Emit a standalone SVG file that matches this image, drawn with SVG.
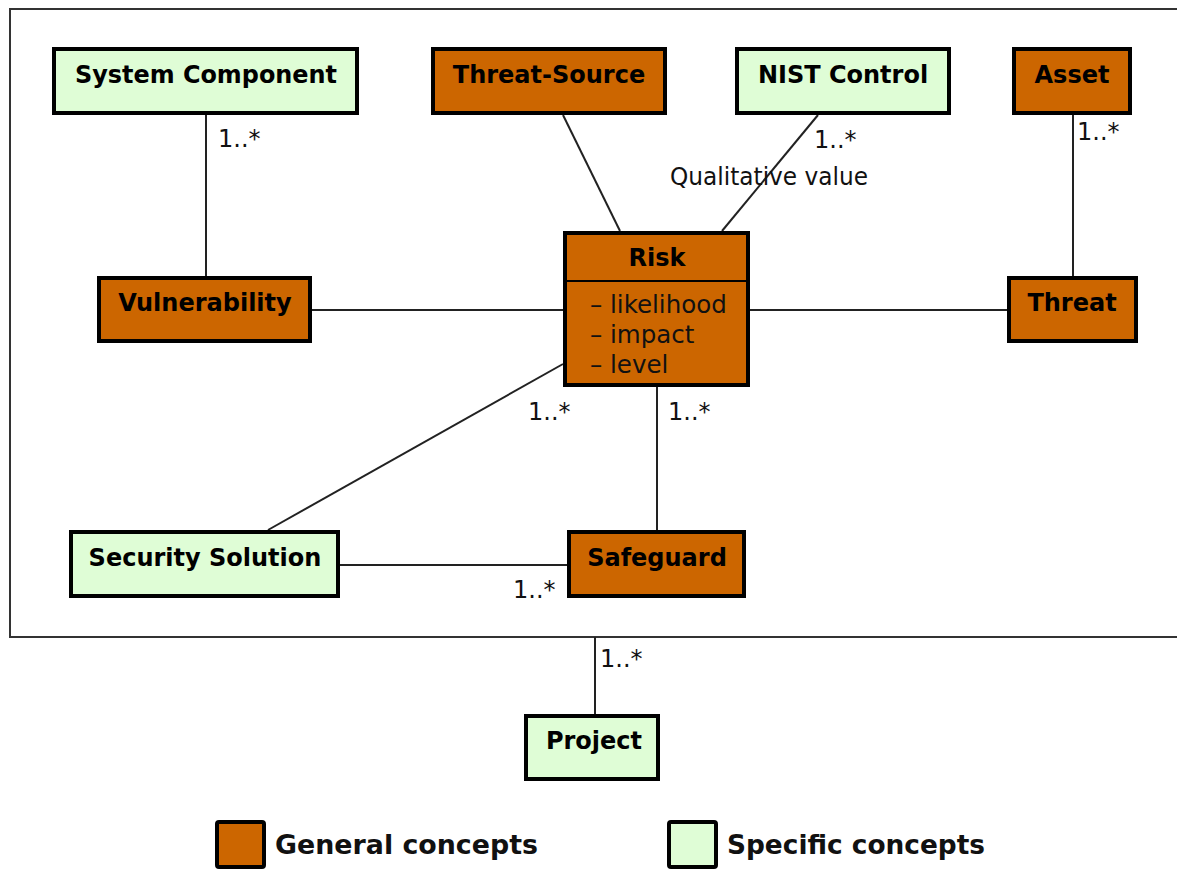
<svg xmlns="http://www.w3.org/2000/svg" width="1177" height="870" viewBox="0 0 1177 870">
  <style>
    .general { fill: #CC6600; stroke: #000; stroke-width: 4; }
    .specific { fill: #DFFDD6; stroke: #000; stroke-width: 4; }
    .frame { fill: #fff; stroke: #333; stroke-width: 2; }
    .edge { stroke: #222; stroke-width: 2; fill: none; }
    .name { font-family: "DejaVu Sans", "Liberation Sans", sans-serif; font-weight: bold; font-size: 24px; fill: #000; text-anchor: middle; }
    .attr { font-family: "DejaVu Sans", "Liberation Sans", sans-serif; font-size: 24.5px; fill: #111; }
    .mult { font-family: "DejaVu Sans", "Liberation Sans", sans-serif; font-size: 24px; fill: #111; }
    .legend { font-family: "DejaVu Sans", "Liberation Sans", sans-serif; font-weight: bold; font-size: 26px; fill: #111; }
  </style>
  <rect width="1177" height="870" fill="#fff"/>

  <!-- package frame -->
  <rect class="frame" x="10" y="9" width="1170" height="628"/>

  <!-- connectors -->
  <g id="connectors">
    <line class="edge" x1="206" y1="115" x2="206" y2="276"/>
    <line class="edge" x1="563" y1="115" x2="620" y2="231"/>
    <line class="edge" x1="818" y1="115" x2="722" y2="231"/>
    <line class="edge" x1="1073" y1="115" x2="1073" y2="276"/>
    <line class="edge" x1="312" y1="310" x2="563" y2="310"/>
    <line class="edge" x1="750" y1="310" x2="1007" y2="310"/>
    <line class="edge" x1="563" y1="364" x2="268" y2="530"/>
    <line class="edge" x1="657" y1="387" x2="657" y2="530"/>
    <line class="edge" x1="340" y1="565" x2="567" y2="565"/>
    <line class="edge" x1="595" y1="637" x2="595" y2="714"/>

    <text class="mult" x="218" y="147">1..*</text>
    <text class="mult" x="814" y="148">1..*</text>
    <text class="mult" x="670" y="185" textLength="198" lengthAdjust="spacingAndGlyphs">Qualitative value</text>
    <text class="mult" x="1077" y="140">1..*</text>
    <text class="mult" x="528" y="420">1..*</text>
    <text class="mult" x="668" y="420">1..*</text>
    <text class="mult" x="513" y="598">1..*</text>
    <text class="mult" x="600" y="667">1..*</text>
  </g>

  <g id="system-component">
    <rect class="specific" x="54" y="49" width="303" height="64"/>
    <text class="name" x="206" y="83" textLength="262" lengthAdjust="spacingAndGlyphs">System Component</text>
  </g>
  <g id="threat-source">
    <rect class="general" x="433" y="49" width="232" height="64"/>
    <text class="name" x="549" y="83">Threat-Source</text>
  </g>
  <g id="nist-control">
    <rect class="specific" x="737" y="49" width="212" height="64"/>
    <text class="name" x="843" y="83">NIST Control</text>
  </g>
  <g id="asset">
    <rect class="general" x="1014" y="49" width="116" height="64"/>
    <text class="name" x="1072" y="83">Asset</text>
  </g>

  <g id="vulnerability">
    <rect class="general" x="99" y="278" width="211" height="63"/>
    <text class="name" x="205" y="311">Vulnerability</text>
  </g>
  <g id="risk">
    <rect class="general" x="565" y="233" width="183" height="152"/>
    <line x1="565" y1="281" x2="748" y2="281" stroke="#000" stroke-width="2"/>
    <text class="name" x="657" y="266">Risk</text>
    <text class="attr" x="590" y="313">– likelihood</text>
    <text class="attr" x="590" y="343">– impact</text>
    <text class="attr" x="590" y="373">– level</text>
  </g>
  <g id="threat">
    <rect class="general" x="1009" y="278" width="127" height="63"/>
    <text class="name" x="1072" y="311">Threat</text>
  </g>

  <g id="security-solution">
    <rect class="specific" x="71" y="532" width="267" height="64"/>
    <text class="name" x="205" y="566">Security Solution</text>
  </g>
  <g id="safeguard">
    <rect class="general" x="569" y="532" width="175" height="64"/>
    <text class="name" x="657" y="566">Safeguard</text>
  </g>

  <g id="project">
    <rect class="specific" x="526" y="716" width="132" height="63"/>
    <text class="name" x="594" y="749">Project</text>
  </g>

  <!-- legend -->
  <g id="legend-general">
    <rect class="general" x="217" y="822" width="47" height="45" rx="2"/>
    <text class="legend" x="275" y="854" textLength="263" lengthAdjust="spacingAndGlyphs">General concepts</text>
  </g>
  <g id="legend-specific">
    <rect class="specific" x="669" y="822" width="47" height="45" rx="2"/>
    <text class="legend" x="727" y="854" textLength="258" lengthAdjust="spacingAndGlyphs">Specific concepts</text>
  </g>
</svg>
